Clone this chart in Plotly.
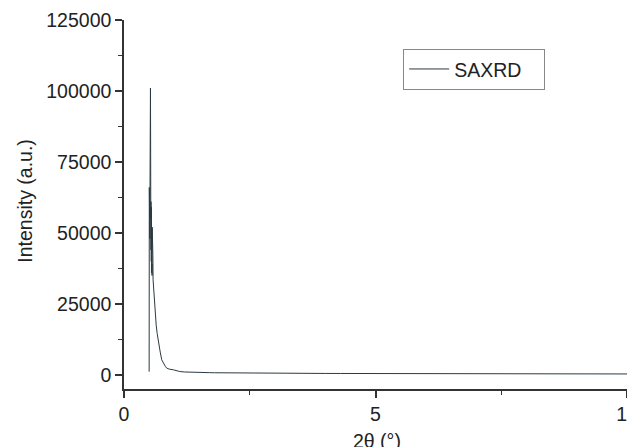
import plotly.graph_objects as go

# 2theta (deg) and intensity (a.u.)
two_theta = [0.500, 0.503, 0.506, 0.510, 0.514, 0.518, 0.522, 0.526, 0.530, 0.533,
             0.536, 0.538, 0.540, 0.543, 0.545, 0.546, 0.549, 0.551, 0.552, 0.555,
             0.557, 0.558, 0.561, 0.563, 0.564, 0.567, 0.569, 0.570, 0.574, 0.578,
             0.590, 0.600, 0.620, 0.640, 0.660, 0.680,
             0.700, 0.720, 0.750, 0.780, 0.820, 0.850, 0.900, 0.980, 1.050, 1.110,
             1.200, 1.300, 1.400, 1.500, 1.600, 1.700, 1.800, 1.900, 2.000, 2.200,
             2.400, 2.600, 2.800, 3.000, 3.200, 3.400, 3.600, 3.800, 4.000, 4.300,
             4.600, 5.000, 5.400, 5.800, 6.200, 6.600, 7.000, 7.500, 8.000, 8.500,
             9.000, 9.500, 10.000]
intensity = [1100, 66000, 52000, 63000, 48000, 70000, 92000, 101000, 78000, 55000,
             61000, 44000, 58000, 40000, 59000, 36000, 57000, 41000, 38000, 55000,
             39000, 35000, 52000, 40000, 37000, 48000, 38000, 35500, 42000, 33500,
             30000, 27000, 21500, 17500, 14500, 12000,
             10000, 8000, 5300, 4200, 3000, 2350, 2000, 1760, 1400, 1160,
             1000, 900, 850, 820, 780, 760, 720, 700, 690, 650,
             640, 600, 590, 560, 540, 520, 510, 500, 480, 470,
             450, 430, 410, 390, 380, 360, 350, 340, 330, 320,
             310, 300, 300]

series_name = "SAXRD"
x_title = "2θ (°)"
y_title = "Intensity (a.u.)"
x_ticks = [0, 5, 10]
y_ticks = [0, 25000, 50000, 75000, 100000, 125000]

FONT = "Liberation Sans, Arial, sans-serif"
INK = "#222222"
FS = 19.5

fig = go.Figure()
fig.add_trace(go.Scatter(
    x=two_theta, y=intensity, mode="lines", name=series_name,
    line=dict(color="#2b3a42", width=1),
))

fig.update_layout(
    width=635, height=447,
    margin=dict(l=116, r=16, t=12, b=66),
    paper_bgcolor="white", plot_bgcolor="white",
    font=dict(family=FONT, size=FS, color=INK),
    showlegend=True,
    legend=dict(
        orientation="h",
        x=0.555, y=0.922, xanchor="left", yanchor="top",
        bordercolor="#888888", borderwidth=1, bgcolor="white",
        font=dict(family=FONT, size=FS, color=INK),
        itemwidth=40, entrywidth=85,
    ),
    annotations=[
        dict(text=x_title, xref="paper", yref="paper", x=0.503, y=-0.14,
             xanchor="center", yanchor="middle", showarrow=False,
             font=dict(family=FONT, size=FS, color=INK)),
        dict(text=y_title, xref="paper", yref="paper", x=-0.197, y=0.51,
             xanchor="center", yanchor="middle", showarrow=False, textangle=-90,
             font=dict(family=FONT, size=FS, color=INK)),
    ],
)

fig.update_xaxes(
    range=[0, 10], tickvals=x_ticks, ticktext=[str(v) for v in x_ticks],
    showgrid=False, zeroline=False, automargin=False, ticklabeloverflow="allow",
    showline=True, linecolor="#333333", linewidth=1.5,
    ticks="outside", ticklen=7, tickwidth=1.5, tickcolor="#333333",
    minor=dict(dtick=2.5, tick0=0, ticks="outside", ticklen=4, tickcolor="#333333", tickwidth=1.2),
)
fig.update_yaxes(
    range=[-5000, 125000], tickvals=y_ticks, ticktext=[str(v) for v in y_ticks],
    showgrid=False, zeroline=False, automargin=False, ticklabeloverflow="allow",
    showline=True, linecolor="#333333", linewidth=1.5,
    ticks="outside", ticklen=7, tickwidth=1.5, tickcolor="#333333",
    minor=dict(dtick=12500, tick0=0, ticks="outside", ticklen=4, tickcolor="#333333", tickwidth=1.2),
)

fig.write_html("out.html")
